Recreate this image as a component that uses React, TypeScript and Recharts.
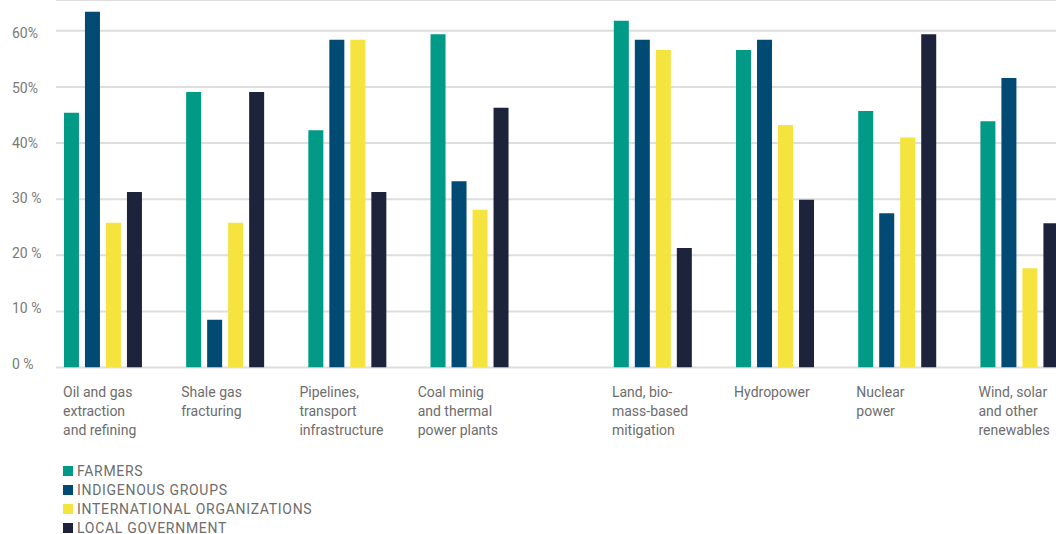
import React from "react";
import { BarChart, Bar, XAxis, YAxis, CartesianGrid, Legend } from "recharts";

// category labels, one array of lines per group
const categories: string[][] = [
  ["Oil and gas", "extraction", "and refining"],
  ["Shale gas", "fracturing"],
  ["Pipelines,", "transport", "infrastructure"],
  ["Coal minig", "and thermal", "power plants"],
  ["Land, bio-", "mass-based", "mitigation"],
  ["Hydropower"],
  ["Nuclear", "power"],
  ["Wind, solar", "and other", "renewables"],
];

const farmers = [45.4, 49.1, 42.3, 59.4, 61.8, 56.6, 45.7, 43.9];
const indigenous = [63.4, 8.5, 58.4, 33.2, 58.4, 58.4, 27.5, 51.6];
const international = [25.8, 25.8, 58.4, 28.1, 56.6, 43.2, 41.0, 17.7];
const localGov = [31.3, 49.1, 31.3, 46.3, 21.3, 29.9, 59.4, 25.7];

const yTicks = [0, 10, 20, 30, 40, 50, 60];
const yTickLabels = ["0 %", "10 %", "20 %", "30 %", "40%", "50%", "60%"];

// the chart has an extra half-slot gap after the fourth group
const GAP_AFTER = 3;
const positions = categories.map((_, i) => i + (i > GAP_AFTER ? 0.5 : 0));

const data = categories.map((lines, i) => ({
  pos: positions[i],
  lines,
  farmers: farmers[i],
  indigenous: indigenous[i],
  international: international[i],
  localGov: localGov[i],
}));

const TEXT = "#6d6d6d";
const FONT = "Roboto, 'Noto Sans', sans-serif";

const XTick = (props: any) => {
  const { x, y, payload } = props;
  const idx = positions.indexOf(payload.value);
  const lines = idx >= 0 ? categories[idx] : [];
  // labels sit a little left of their bar group, more so in the first half
  const left = x - (idx > GAP_AFTER ? 41 : 40 + idx * 4);
  return (
    <text x={left} y={y + 29.5} fill={TEXT} fontSize={14} fontFamily={FONT} textAnchor="start">
      {lines.map((l, i) => (
        <tspan key={i} x={left} dy={i === 0 ? 0 : 19}>
          {l}
        </tspan>
      ))}
    </text>
  );
};

const YTick = (props: any) => {
  const { y, payload } = props;
  const label = yTickLabels[yTicks.indexOf(payload.value)];
  // lower labels ride a bit above their gridline in the original
  const dy = 7 - (60 - payload.value) * 0.1;
  return (
    <text x={12} y={y + dy} fill="#7a7a7a" fontSize={14} fontFamily={FONT} textAnchor="start">
      {label}
    </text>
  );
};

const LegendContent = (props: any) => {
  const { payload } = props;
  return (
    <div style={{ fontFamily: FONT, fontSize: 14, color: TEXT, letterSpacing: 0.7 }}>
      {payload.map((p: any) => (
        <div key={p.value} style={{ display: "flex", alignItems: "center", height: 19 }}>
          <span style={{ width: 10, height: 10, background: p.color, marginLeft: 63, marginRight: 4 }} />
          <span>{p.value}</span>
        </div>
      ))}
    </div>
  );
};

const App: React.FC = () => {
  return (
    <div
      style={{
        position: "absolute",
        left: 0,
        top: 0,
        width: 1056,
        height: 534,
        overflow: "hidden",
        background: "#fff",
      }}
    >
      <BarChart
        width={1080}
        height={534}
        data={data}
        margin={{ top: 0, right: 0, left: 0, bottom: 10.5 }}
        barSize={15}
        barGap={6}
      >
        <CartesianGrid vertical={false} stroke="#dedede" strokeWidth={2} />
        <XAxis
          dataKey="pos"
          type="number"
          domain={[-0.385, 7.995]}
          allowDataOverflow
          ticks={positions}
          interval={0}
          axisLine={false}
          tickLine={false}
          tickSize={0}
          tickMargin={0}
          height={80}
          tick={<XTick />}
        />
        <YAxis
          width={56}
          domain={[0, 65.5]}
          allowDataOverflow
          ticks={yTicks}
          interval={0}
          axisLine={false}
          tickLine={false}
          tick={<YTick />}
        />
        <Legend
          verticalAlign="bottom"
          align="left"
          layout="horizontal"
          content={<LegendContent />}
          wrapperStyle={{ position: "absolute", left: 0, top: 461, width: 400, height: 76 }}
        />
        <Bar dataKey="farmers" name="FARMERS" fill="#009a87" isAnimationActive={false} />
        <Bar dataKey="indigenous" name="INDIGENOUS GROUPS" fill="#004a74" isAnimationActive={false} />
        <Bar dataKey="international" name="INTERNATIONAL ORGANIZATIONS" fill="#f5e33e" isAnimationActive={false} />
        <Bar dataKey="localGov" name="LOCAL GOVERNMENT" fill="#1c233b" isAnimationActive={false} />
      </BarChart>
    </div>
  );
};

export default App;
